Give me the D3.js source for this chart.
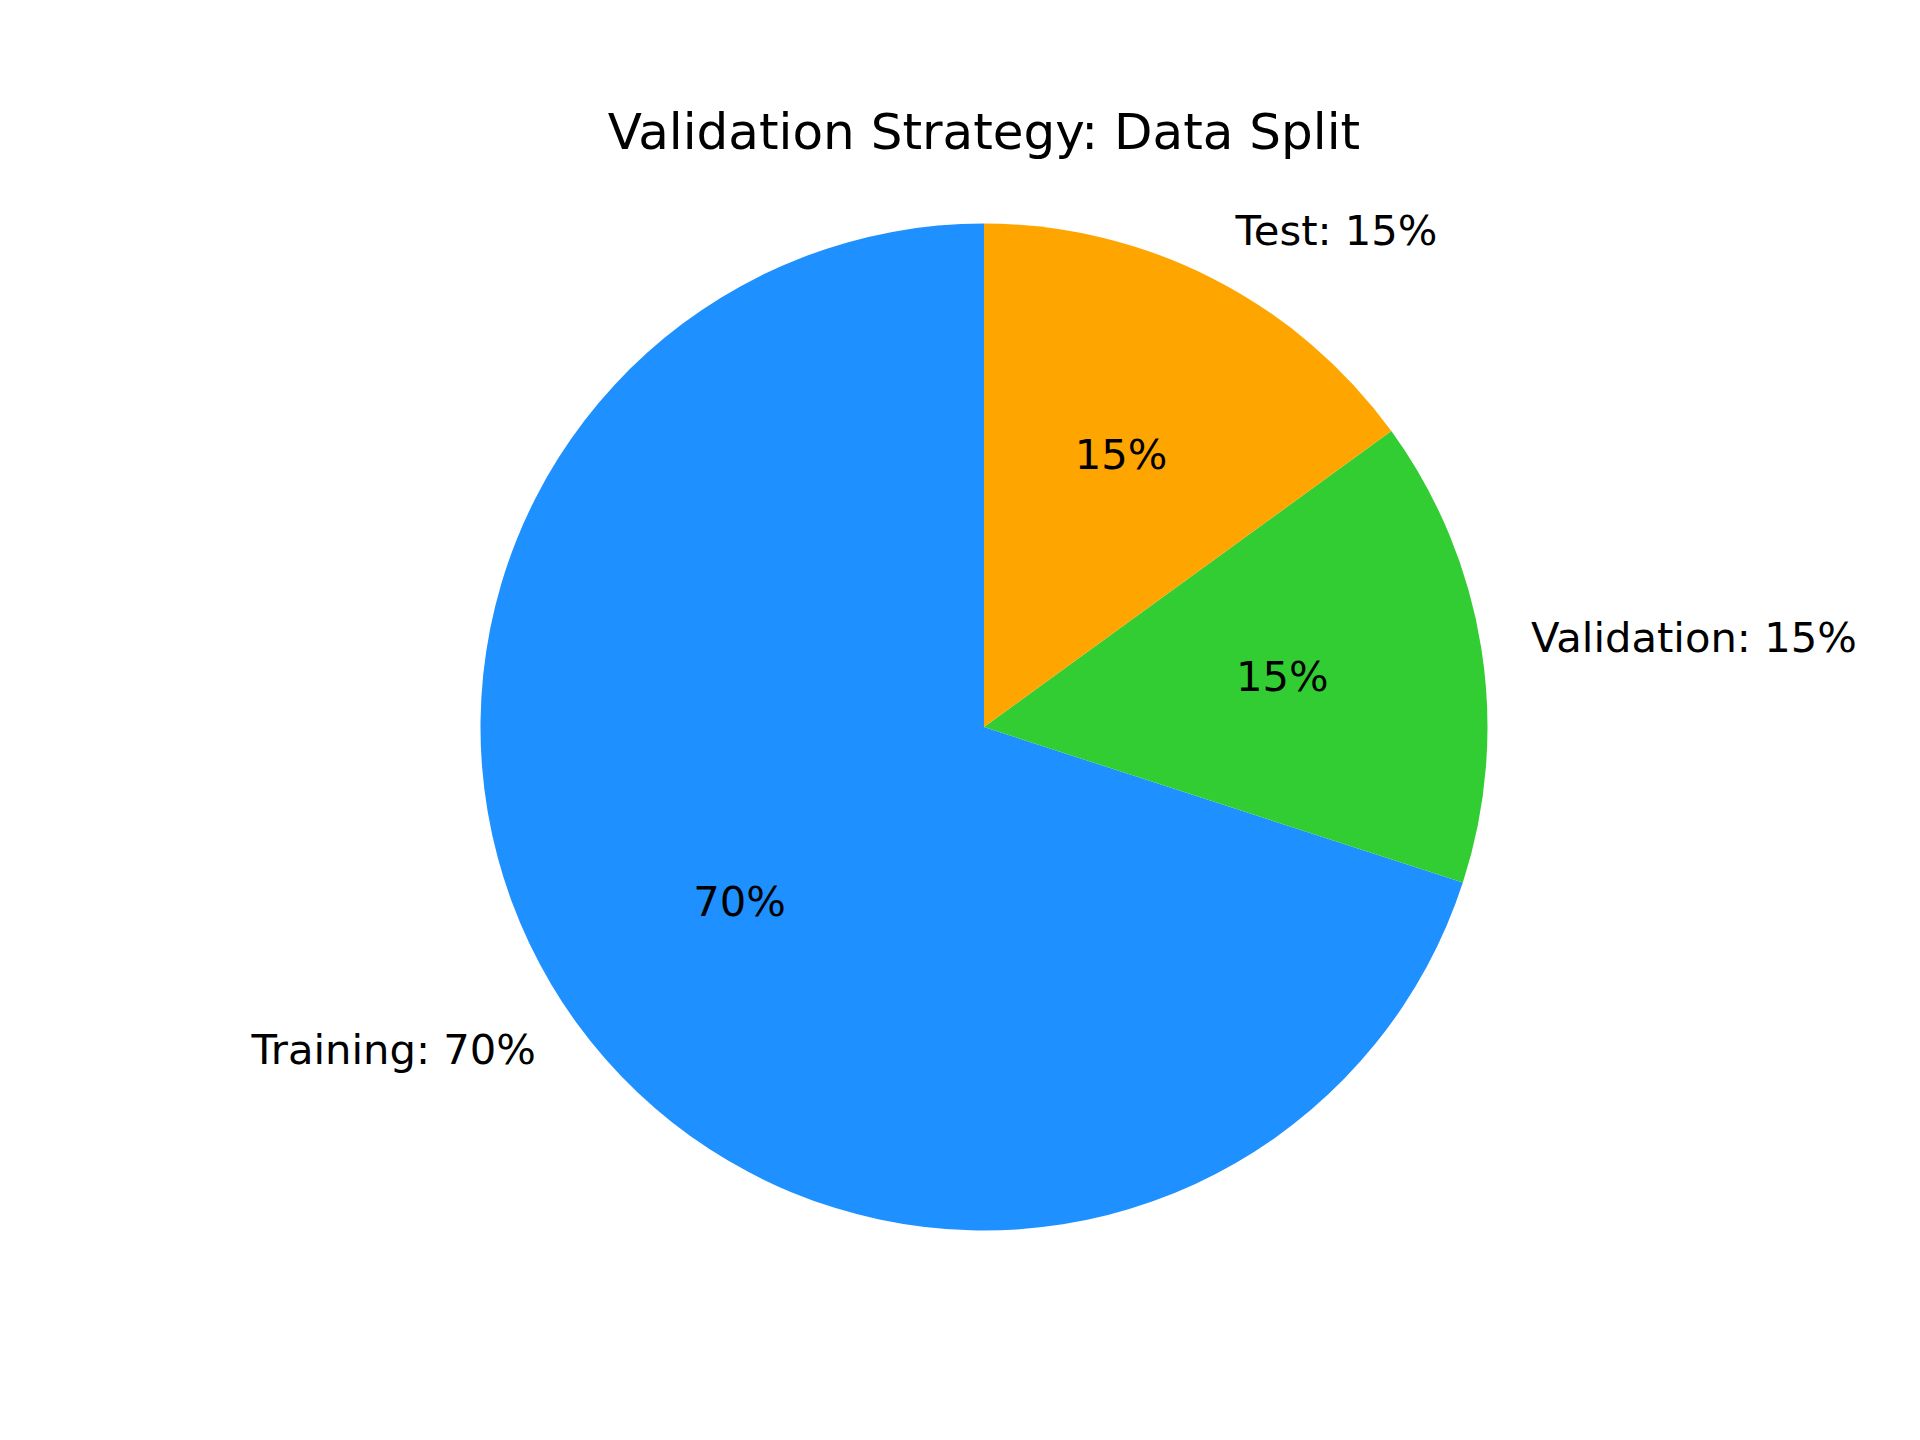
<!DOCTYPE html>
<html>
<head>
<meta charset="utf-8">
<script src="https://cdn.jsdelivr.net/npm/d3@7"></script>
<style>
  html, body { margin: 0; padding: 0; background: #fff; }
  svg { display: block; }
  text { font-family: "DejaVu Sans", sans-serif; fill: #000; }
</style>
</head>
<body>
<svg id="chart" width="1920" height="1440"></svg>
<script>
const categories = ["Training", "Validation", "Test"];
const values = [70, 15, 15];
const colors = ["#1E90FF", "#32CD32", "#FFA500"];
const title = "Validation Strategy: Data Split";

const W = 1920, H = 1440;
const cx = 984, cy = 727, R = 503.5;
const textShift = -3;

const svg = d3.select("#chart");
svg.append("rect").attr("width", W).attr("height", H).attr("fill", "#fff");

const data = categories.map((c, i) => ({ name: c, value: values[i], color: colors[i] }));
const total = d3.sum(values);

// matplotlib: startangle=90, counterclockwise
const pie = d3.pie().value(d => d.value).sort(null).startAngle(0).endAngle(-2 * Math.PI);
const arcs = pie(data);

const g = svg.append("g").attr("transform", `translate(${cx},${cy})`);
const arc = d3.arc().innerRadius(0).outerRadius(R);
g.selectAll("path.slice").data(arcs).enter().append("path")
  .attr("class", "slice")
  .attr("d", arc)
  .attr("fill", d => d.data.color);

const labelArc = d3.arc().innerRadius(R * 1.1).outerRadius(R * 1.1);
const pctArc = d3.arc().innerRadius(R * 0.6).outerRadius(R * 0.6);
const fmt = v => Math.round(v / total * 100) + "%";

g.selectAll("text.label").data(arcs).enter().append("text")
  .attr("class", "label")
  .attr("x", d => labelArc.centroid(d)[0])
  .attr("y", d => labelArc.centroid(d)[1] + textShift)
  .attr("text-anchor", d => labelArc.centroid(d)[0] > 0 ? "start" : "end")
  .attr("dominant-baseline", "central")
  .attr("font-size", 41.7)
  .text(d => `${d.data.name}: ${fmt(d.data.value)}`);

g.selectAll("text.pct").data(arcs).enter().append("text")
  .attr("class", "pct")
  .attr("x", d => pctArc.centroid(d)[0])
  .attr("y", d => pctArc.centroid(d)[1] + textShift)
  .attr("text-anchor", "middle")
  .attr("dominant-baseline", "central")
  .attr("font-size", 41.7)
  .text(d => fmt(d.data.value));

svg.append("text")
  .attr("x", cx)
  .attr("y", 149)
  .attr("text-anchor", "middle")
  .attr("font-size", 50)
  .text(title);
</script>
</body>
</html>
